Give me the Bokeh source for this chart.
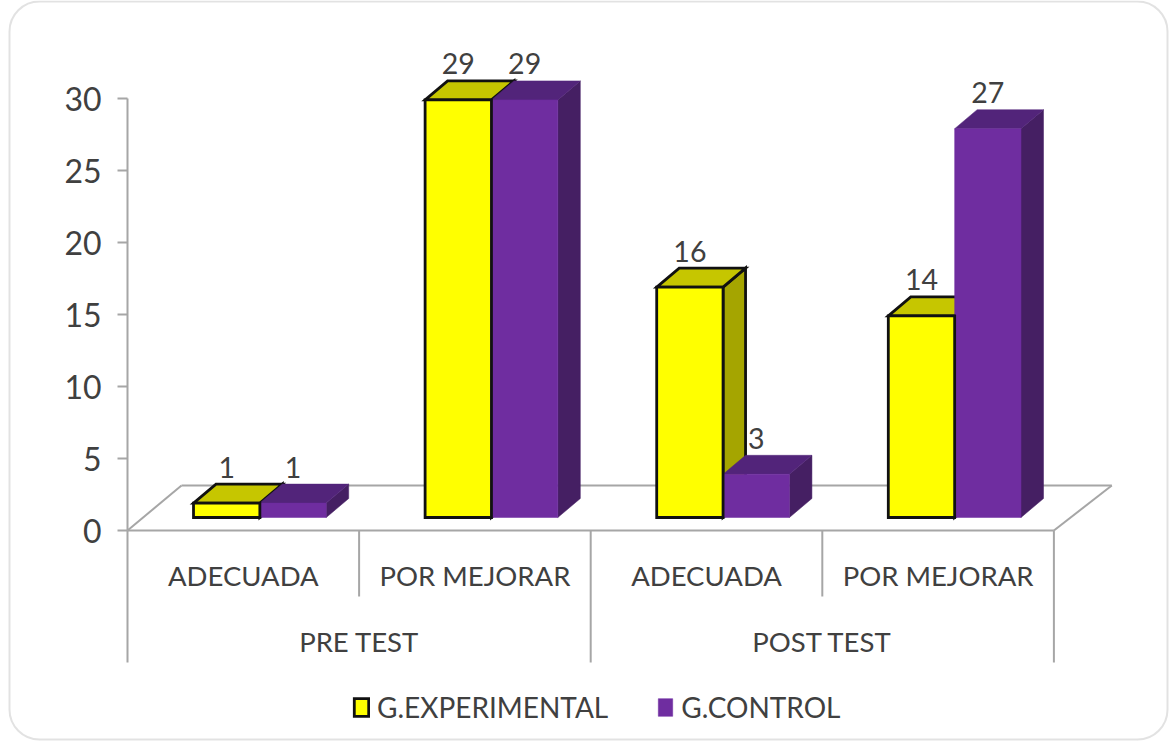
from bokeh.plotting import figure
from bokeh.embed import file_html
from bokeh.resources import INLINE
from bokeh.core.properties import value
from bokeh.models import (BoxAnnotation, FixedTicker, Legend, LegendItem,
                          LinearAxis, Range1d)

# ---- data ----
groups = ["PRE TEST", "POST TEST"]
categories = ["ADECUADA", "POR MEJORAR", "ADECUADA", "POR MEJORAR"]
experimental = [1, 29, 16, 14]
control = [1, 29, 3, 27]
y_ticks = [0, 5, 10, 15, 20, 25, 30]
series_names = ["G.EXPERIMENTAL", "G.CONTROL"]

# ---- layout ----
W, H = 1172, 744
PX_X, PX_Y = 231.6, 14.4      # pixels per category / per value unit
AX_X, AX_Y = 127, 530         # canvas position of (0, 0)
BAR_L, BAR_W = 0.285, 0.2865  # bar offset / width in category units
DEPTH_X, DEPTH_Y = 22.5 / PX_X, 19 / PX_Y
FLOOR = 13 / PX_Y
PLATE_X0, PLATE_X1, PLATE_Y = 54 / PX_X, 4.25, 45 / PX_Y
LONG, SHORT = -132 / PX_Y, -66 / PX_Y
FONT = value("Lato")
TXT = "#404040"
GREY = "#a6a6a6"

p = figure(width=W, height=H, output_backend="svg", toolbar_location=None,
           x_axis_type=None, y_axis_type=None, min_border=0,
           x_range=Range1d(-AX_X / PX_X, (W - AX_X) / PX_X),
           y_range=Range1d(-(H - AX_Y) / PX_Y, AX_Y / PX_Y),
           background_fill_color="white", border_fill_color="white",
           outline_line_color=None)
p.xgrid.visible = False
p.ygrid.visible = False

# rounded panel
p.add_layout(BoxAnnotation(left=9, right=1167, top=5, bottom=743,
                           left_units="screen", right_units="screen",
                           top_units="screen", bottom_units="screen",
                           fill_color="white", line_color="#a0a0a0", line_width=2,
                           border_radius=30, level="underlay"))

# value axis
axis = LinearAxis(fixed_location=0, bounds=(0, 30), ticker=FixedTicker(ticks=y_ticks),
                  axis_line_color=GREY, axis_line_width=2,
                  major_tick_line_color=GREY, major_tick_line_width=2,
                  major_tick_in=0, major_tick_out=10, minor_tick_line_color=None,
                  major_label_text_font="Lato", major_label_text_font_size="32px",
                  major_label_text_color=TXT, major_label_standoff=16)
p.add_layout(axis, "left")

# floor plate and category separators
p.multi_line(
    xs=[[0, 4], [PLATE_X0, PLATE_X1], [0, PLATE_X0], [4, PLATE_X1],
        [0, 0], [1, 1], [2, 2], [3, 3], [4, 4]],
    ys=[[0, 0], [PLATE_Y, PLATE_Y], [0, PLATE_Y], [0, PLATE_Y],
        [0, LONG], [0, SHORT], [0, LONG], [0, SHORT], [0, LONG]],
    line_color=GREY, line_width=2)


def faces(values, shift):
    front_x, front_y, top_x, top_y, side_x, side_y = [], [], [], [], [], []
    for i, v in enumerate(values):
        x0 = i + BAR_L + shift
        x1 = x0 + BAR_W
        y0 = FLOOR
        y1 = FLOOR + v
        front_x.append([x0, x1, x1, x0])
        front_y.append([y0, y0, y1, y1])
        top_x.append([x0, x1, x1 + DEPTH_X, x0 + DEPTH_X])
        top_y.append([y1, y1, y1 + DEPTH_Y, y1 + DEPTH_Y])
        side_x.append([x1, x1 + DEPTH_X, x1 + DEPTH_X, x1])
        side_y.append([y0, y0 + DEPTH_Y, y1 + DEPTH_Y, y1])
    return front_x, front_y, top_x, top_y, side_x, side_y


fy_x, fy_y, ty_x, ty_y, sy_x, sy_y = faces(experimental, 0)
fc_x, fc_y, tc_x, tc_y, sc_x, sc_y = faces(control, BAR_W)

edge = dict(line_color="#111111", line_width=2.8, line_join="miter")
p.patches(sy_x, sy_y, fill_color="#a5a500", **edge)
p.patches(ty_x, ty_y, fill_color="#c6c600", **edge)
p.patches(sc_x, sc_y, fill_color="#451f63", line_color="#451f63", line_width=0.5)
p.patches(tc_x, tc_y, fill_color="#52247a", line_color="#52247a", line_width=0.5)
r_control = p.patches(fc_x, fc_y, fill_color="#6f2da0", line_color="#6f2da0", line_width=0.5)
r_exper = p.patches(fy_x, fy_y, fill_color="#ffff00", **edge)

# value labels
lab_x = [i + BAR_L + BAR_W / 2 for i in range(4)] + [i + BAR_L + 1.5 * BAR_W for i in range(4)]
lab_v = experimental + control
p.text(x=lab_x, y=[v + FLOOR for v in lab_v], text=[str(v) for v in lab_v],
       text_font=FONT, text_font_size="28.5px", text_color=TXT,
       text_align="center", text_baseline="middle", y_offset=-36)

# category labels
p.text(x=[i + 0.5 for i in range(4)], y=[-45 / PX_Y] * 4, text=categories,
       text_font=FONT, text_font_size="27.5px", text_color=TXT,
       text_align="center", text_baseline="middle")
p.text(x=[1, 3], y=[-111 / PX_Y] * 2, text=groups,
       text_font=FONT, text_font_size="27.5px", text_color=TXT,
       text_align="center", text_baseline="middle")

# legend
legend = Legend(items=[LegendItem(label=series_names[0], renderers=[r_exper]),
                       LegendItem(label=series_names[1], renderers=[r_control])],
                orientation="horizontal", location=(352, 20),
                background_fill_alpha=0, border_line_color=None,
                margin=0, padding=0, spacing=48, glyph_width=18, glyph_height=22,
                label_standoff=7, label_text_font="Lato", label_text_font_size="28px",
                label_text_color=TXT)
p.add_layout(legend, "center")

open("out.html", "w").write(file_html(p, INLINE))
